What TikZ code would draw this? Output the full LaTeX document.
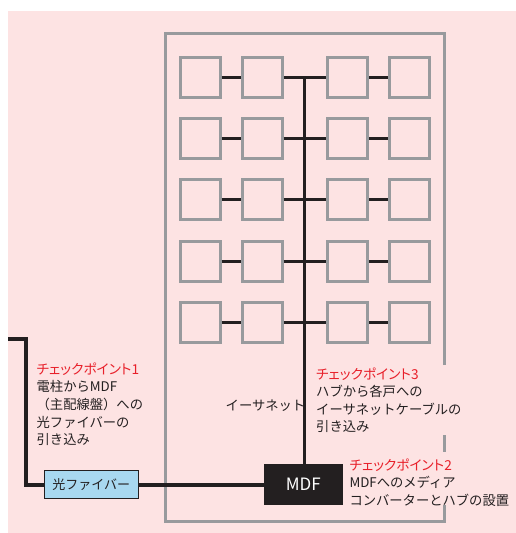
\documentclass[tikz,border=0pt]{standalone}
\usepackage{fontspec}
\setmainfont{Noto Sans CJK JP}
\newfontfamily\jpfont{Noto Sans CJK JP}
\newfontfamily\jppal[RawFeature=+palt]{Noto Sans CJK JP}
\definecolor{bgpink}{RGB}{253,227,227}
\definecolor{wallgray}{RGB}{152,154,157}
\definecolor{ink}{RGB}{35,31,32}
\definecolor{cpred}{RGB}{232,32,42}
\definecolor{fiberblue}{RGB}{168,216,240}
\tikzset{
  unit/.style={draw=wallgray, line width=3pt, minimum width=40pt, minimum height=40pt, inner sep=0pt},
  wire/.style={draw=ink, line width=3pt},
  fiber/.style={draw=ink, line width=4pt},
  wall/.style={draw=wallgray, line width=3pt},
  txt/.style={text=ink, font=\jpfont\fontsize{13.3}{17.6}\selectfont, align=left, inner sep=0pt, anchor=north west},
  redtxt/.style={text=cpred, font=\jppal\fontsize{13.7}{17.6}\selectfont, inner sep=0pt, anchor=base west},
}
\begin{document}
\begin{tikzpicture}[x=1pt,y=-1pt]
\useasboundingbox (0,0) rectangle (516,533);
\fill[bgpink] (8,11) rectangle (516,533);
% building outline with gaps on right side
\draw[wall] (444.5,365) -- (444.5,33.5) -- (165,33.5) -- (165,521) -- (444.5,521) -- (444.5,505);
\draw[wall] (444.5,435) -- (444.5,452);
% units
\foreach \r/\y in {1/77,2/138,3/199.5,4/261,5/322}{
  \foreach \c/\x in {1/200,2/262,3/347.5,4/409.5}{
    \node[unit] (u\r\c) at (\x,\y) {};
  }
  \coordinate (t\r) at (304.7,\y);
  \draw[wire] (u\r1.east) -- (u\r2.west);
  \draw[wire] (u\r2.east) -- (u\r3.west);
  \draw[wire] (u\r3.east) -- (u\r4.west);
}
% MDF
\node[fill=ink, minimum width=78.7pt, minimum height=41.3pt, inner sep=0pt, text=white, font=\jpfont\fontsize{17}{19}\selectfont] (mdf) at (303.3,484.7) {MDF};
\draw[wire] (t1) -- (mdf.north -| t1);
% fiber
\node[draw=ink, line width=1pt, fill=fiberblue, minimum width=94pt, minimum height=28.3pt, inner sep=0pt, text=ink, font=\jpfont\fontsize{13}{16}\selectfont] (fib) at (91.2,484.7) {光ファイバー};
\coordinate (pole) at (8,339.3);
\coordinate (bend1) at (25.7,339.3);
\draw[fiber] (pole) -- (bend1) |- (fib.west);
\draw[fiber] (fib.east) -- (mdf.west);
% texts
\node[redtxt] (cp1) at (36.5,374.5) {チェックポイント1};
\node[txt] (cp1t) at (36.5,380.5) {電柱からMDF\\（主配線盤）への\\光ファイバーの\\引き込み};
\node[redtxt] (cp3) at (316,379) {チェックポイント3};
\node[txt] (cp3t) at (316,385) {ハブから各戸への\\イーサネットケーブルの\\引き込み};
\node[redtxt] (cp2) at (349.3,470) {チェックポイント2};
\node[txt] (cp2t) at (349.3,476) {MDFへのメディア\\コンバーターとハブの設置};
\node[text=ink, font=\jpfont\fontsize{13.3}{16}\selectfont, inner sep=0pt, anchor=west] (eth) at (225.5,406) {イーサネット};
\end{tikzpicture}
\end{document}
